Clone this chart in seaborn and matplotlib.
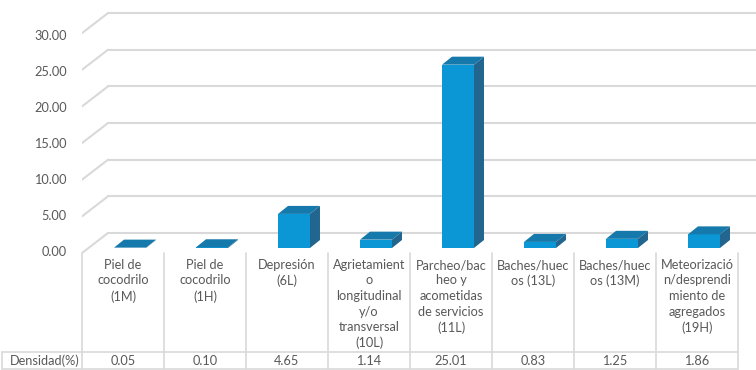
import numpy as np
import pandas as pd
import seaborn as sns
import matplotlib
matplotlib.use("Agg")
import matplotlib.pyplot as plt

sns.set_style("white")
plt.rcParams['font.family'] = ['Lato', 'DejaVu Sans']

# data
categorias = ["Piel de\ncocodrilo\n(1M)",
              "Piel de\ncocodrilo\n(1H)",
              "Depresión\n(6L)",
              "Agrietamient\no\nlongitudinal\ny/o\ntransversal\n(10L)",
              "Parcheo/bac\nheo y\nacometidas\nde servicios\n(11L)",
              "Baches/huec\nos (13L)",
              "Baches/huec\nos (13M)",
              "Meteorizació\nn/desprendi\nmiento de\nagregados\n(19H)"]
densidad = [0.05, 0.10, 4.65, 1.14, 25.01, 0.83, 1.25, 1.86]
valores_txt = ["0.05", "0.10", "4.65", "1.14", "25.01", "0.83", "1.25", "1.86"]
yticks = [0, 5, 10, 15, 20, 25, 30]
fila = "Densidad(%)"

df = pd.DataFrame({"Tipo": categorias, "Densidad": densidad})

c_front = "#0b97d6"
c_top = "#1679ab"
c_side = "#22668f"
c_grid = "#d9d9d9"
c_txt = "#595959"
fs = 9.2

W, H = 756, 370
PX = 7.33  # px per unit
fig = plt.figure(figsize=(W / 100, H / 100), dpi=100)
fig.patch.set_facecolor("white")

# main plot area
ax = fig.add_axes([82 / W, (H - 258) / H, (W - 82) / W, 258 / H])
sns.barplot(data=df, x="Tipo", y="Densidad", color=c_front, saturation=1,
            width=0.39, errorbar=None, linewidth=0, ax=ax, zorder=3)
ax.set_xlim(-0.5, (W - 123) / 82)
ax.set_ylim(-10 / PX, 248 / PX)
for s in ax.spines.values():
    s.set_visible(False)
ax.set_xlabel("")
ax.set_ylabel("")
ax.set_xticks([])
ax.set_facecolor("none")

# back wall gridlines + left diagonals
back = 15 / PX
bx = -15 / 82
for v in yticks:
    ax.plot([bx, ax.get_xlim()[1]], [v + back, v + back], color=c_grid, lw=1.5, zorder=1)
    ax.plot([-0.5, bx], [v + back - 20 / PX, v + back], color=c_grid, lw=1.5, zorder=1)
ax.set_yticks([v - 0.45 - 0.015 * v for v in yticks], labels=[f"{v:.2f}" for v in yticks])
ax.tick_params(axis="y", length=0, pad=11, labelsize=fs, labelcolor=c_txt)

# fake 3D depth for each bar
dx, dy = 10 / 82, 8 / PX
for p in ax.patches:
    x0 = p.get_x() + 7 / 82
    p.set_x(x0)
    w, h = p.get_width(), p.get_height()
    ax.fill([x0, x0 + w, x0 + w + dx, x0 + dx], [h, h, h + dy, h + dy],
            color=c_top, lw=0, zorder=3)
    ax.fill([x0 + w, x0 + w + dx, x0 + w + dx, x0 + w], [0, dy, h + dy, h],
            color=c_side, lw=0, zorder=3)

# data table underneath
tb = fig.add_axes([0, 0, 1, 115 / H])
tb.set_xlim(-1.5, (W - 123) / 82)
tb.set_ylim(H, 255)
tb.axis("off")
n = len(categorias)
for i in range(n + 1):
    tb.plot([i - 0.5, i - 0.5], [253, 369], color=c_grid, lw=1.2, clip_on=False)
x_left = -1.5 + 2 / 82
tb.plot([x_left, n - 0.5], [352, 352], color=c_grid, lw=1.2, clip_on=False)
tb.plot([x_left, n - 0.5], [369, 369], color=c_grid, lw=1.2, clip_on=False)
tb.plot([x_left, x_left], [352, 369], color=c_grid, lw=1.2, clip_on=False)
for i, (c, t) in enumerate(zip(categorias, valores_txt)):
    tb.text(i, 259, c, ha="center", va="top", fontsize=fs, color=c_txt, linespacing=1.35)
    tb.text(i, 361, t, ha="center", va="center", fontsize=fs, color=c_txt)
tb.text(-1.5 + 10 / 82, 361, fila, ha="left", va="center", fontsize=fs, color=c_txt)

fig.savefig("out.png", dpi=100)
